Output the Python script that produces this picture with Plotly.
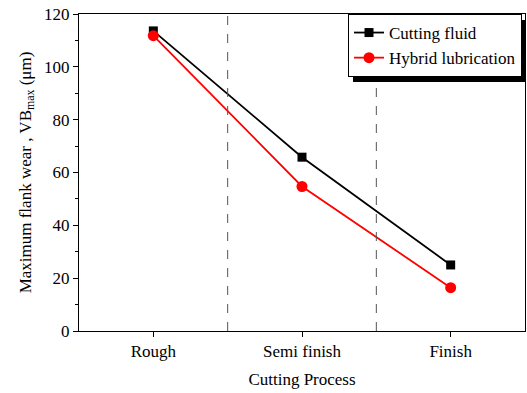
import plotly.graph_objects as go

categories = ["Rough", "Semi finish", "Finish"]
cutting_fluid = [113.6, 65.8, 25.0]
hybrid_lubrication = [111.8, 54.7, 16.4]

FONT = "Liberation Serif, Times New Roman, serif"

L, R, T, B = 79, 2, 14, 62
PW, PH = 527 - L - R, 393 - T - B

def px(x):
    return (x - L) / PW

def py(y):
    return 1 - (y - T) / PH

fig = go.Figure()
fig.add_trace(go.Scatter(x=[0, 1, 2], y=cutting_fluid, mode="lines+markers", name="Cutting fluid",
                         line=dict(color="black", width=1.8),
                         marker=dict(symbol="square", size=9, color="black")))
fig.add_trace(go.Scatter(x=[0, 1, 2], y=hybrid_lubrication, mode="lines+markers", name="Hybrid lubrication",
                         line=dict(color="red", width=1.8),
                         marker=dict(symbol="circle", size=11, color="red")))

for xv in [0.5, 1.5]:
    fig.add_shape(type="line", x0=xv, x1=xv, y0=0, y1=1, xref="x", yref="paper",
                  line=dict(color="#555555", width=1, dash="dash"))

# legend shadow
fig.add_shape(type="rect", xref="paper", yref="paper",
              x0=px(353), x1=px(526), y0=py(82), y1=py(20),
              fillcolor="black", line=dict(width=0), layer="above")

fig.update_layout(
    width=527, height=393,
    margin=dict(l=L, r=R, t=T, b=B, autoexpand=False),
    plot_bgcolor="white", paper_bgcolor="white",
    font=dict(family=FONT, size=17, color="black"),
    showlegend=True,
    legend=dict(x=px(522), y=py(14), xanchor="right", yanchor="top",
                bgcolor="white", bordercolor="black", borderwidth=1,
                font=dict(family=FONT, size=17, color="black"),
                itemwidth=30, tracegroupgap=0),
    xaxis=dict(range=[-0.5, 2.5], tickmode="array", tickvals=[0, 1, 2], ticktext=categories,
               showgrid=False, zeroline=False, showline=True, linecolor="black", linewidth=1,
               mirror=True, ticks="outside", ticklen=5, tickcolor="black", automargin=False,
               title=dict(text="Cutting Process", font=dict(family=FONT, size=17), standoff=12)),
    yaxis=dict(range=[0, 120], tickmode="linear", tick0=0, dtick=20,
               showgrid=False, zeroline=False, showline=True, linecolor="black", linewidth=1,
               mirror=True, ticks="outside", ticklen=5, tickcolor="black", automargin=False,
               minor=dict(dtick=10, ticks="outside", ticklen=3, tickcolor="black"),
               title=dict(text="Maximum flank wear , VB<sub>max</sub> (μm)", font=dict(family=FONT, size=17), standoff=8)),
)

fig.write_html("out.html", config={"displayModeBar": False},
               post_script="document.body.style.margin='0';document.body.style.overflow='hidden';")
